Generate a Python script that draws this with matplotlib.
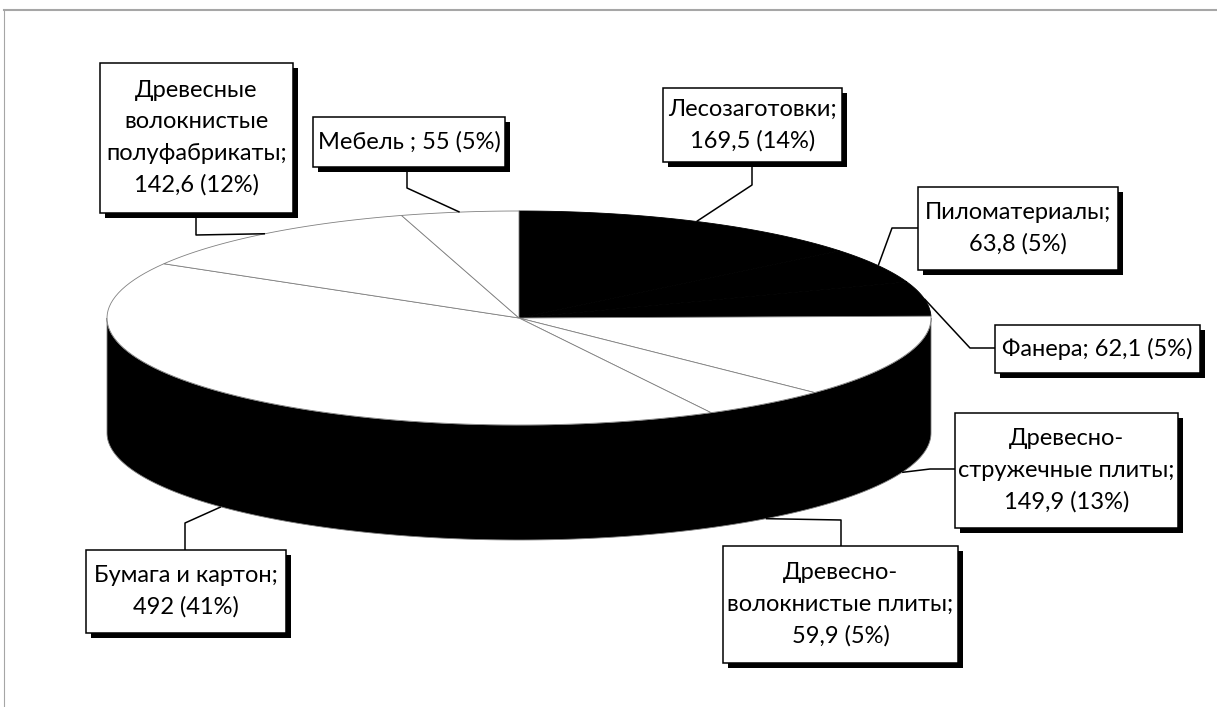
import numpy as np
import matplotlib
matplotlib.use("Agg")
import matplotlib.pyplot as plt
from matplotlib.patches import Polygon, Rectangle

# --------------------------------------------------------------------------- #
# Data (clockwise from 12 o'clock, as Excel draws it)
# --------------------------------------------------------------------------- #
names = ["Лесозаготовки", "Пиломатериалы", "Фанера",
         "Древесно-\nстружечные плиты", "Древесно-\nволокнистые плиты",
         "Бумага и картон", "Древесные\nволокнистые\nполуфабрикаты", "Мебель "]
values = [169.5, 63.8, 62.1, 149.9, 59.9, 492, 142.6, 55]
seps = ["\n", "\n", " ", "\n", "\n", "\n", "\n", " "]
top_colors = ["black", "black", "black", "white", "white", "white", "white", "white"]

# --------------------------------------------------------------------------- #
# Layout (pixels)
# --------------------------------------------------------------------------- #
W, H = 1217, 707
cx, cy, a, b, depth = 519, 318, 412, 107, 115

# label boxes: x0, y0, x1, y1
boxes = [(663, 88, 842, 162), (918, 187, 1118, 270), (995, 325, 1200, 373),
         (955, 413, 1178, 528), (723, 546, 958, 663), (86, 550, 286, 633),
         (100, 63, 293, 213), (313, 117, 505, 167)]
# leader lines: box attach point, elbow point
leaders = [((752, 162), (752, 185)), ((918, 228), (892, 228)), ((995, 348), (970, 348)),
           ((955, 469), (930, 469)), ((841, 546), (841, 520)), ((185, 550), (185, 523)),
           ((196, 213), (196, 235)), ((407, 167), (407, 188))]

plt.rcParams["font.family"] = ["Lato", "DejaVu Sans"]

fig = plt.figure(figsize=(W / 100, H / 100), dpi=100)
ax = fig.add_axes([0, 0, 1, 1])
ax.set_xlim(0, W)
ax.set_ylim(H, 0)
ax.axis("off")

# chart area border
ax.plot([4, W], [10, 10], color="#a6a6a6", lw=1.5)
ax.plot([4, 4], [10, H], color="#a6a6a6", lw=0.8)


def ell(t, dy=0):
    t = np.radians(t)
    return cx + a * np.cos(t), cy + dy - b * np.sin(t)


# side wall (front half)
t = np.linspace(180, 360, 200)
xt, yt = ell(t)
xb, yb = ell(t[::-1], depth)
ax.add_patch(Polygon(np.column_stack([np.r_[xt, xb], np.r_[yt, yb]]),
                     closed=True, fc="black", ec="#808080", lw=0.6, zorder=2))

# top faces
total = sum(values)
start = 90.0
mids = []
for v, col in zip(values, top_colors):
    sweep = 360 * v / total
    tt = np.linspace(start, start - sweep, 80)
    px, py = ell(tt)
    dark = col == "black"
    ax.add_patch(Polygon(np.column_stack([np.r_[cx, px], np.r_[cy, py]]),
                         closed=True, fc=col, ec="black" if dark else "#808080",
                         lw=0.6, zorder=3 if dark else 3.5))
    mids.append((start - sweep / 2) % 360)
    start -= sweep

# labels
for name, v, sep, box, (p0, p1), mid in zip(names, values, seps, boxes, leaders, mids):
    pct = round(100 * v / total)
    val = f"{v:g}".replace(".", ",")
    label = f"{name};{sep}{val} ({pct}%)"

    # anchor on the pie: top rim for back slices, bottom rim for front ones
    if 0 < mid < 180:
        ex, ey = ell(mid)
    else:
        ex, ey = ell(mid, depth)
    ax.plot([p0[0], p1[0], ex], [p0[1], p1[1], ey], color="black", lw=1.1,
            zorder=4, solid_capstyle="butt")

    x0, y0, x1, y1 = box
    ax.add_patch(Rectangle((x0 + 5, y0 + 5), x1 - x0, y1 - y0, fc="black",
                           ec="none", zorder=5))
    ax.add_patch(Rectangle((x0, y0), x1 - x0, y1 - y0, fc="white",
                           ec="black", lw=1.1, zorder=6))
    ax.text((x0 + x1) / 2, (y0 + y1) / 2, label, ha="center", va="center",
            fontsize=17, linespacing=1.6, zorder=7)

fig.savefig("out.png", dpi=100)
